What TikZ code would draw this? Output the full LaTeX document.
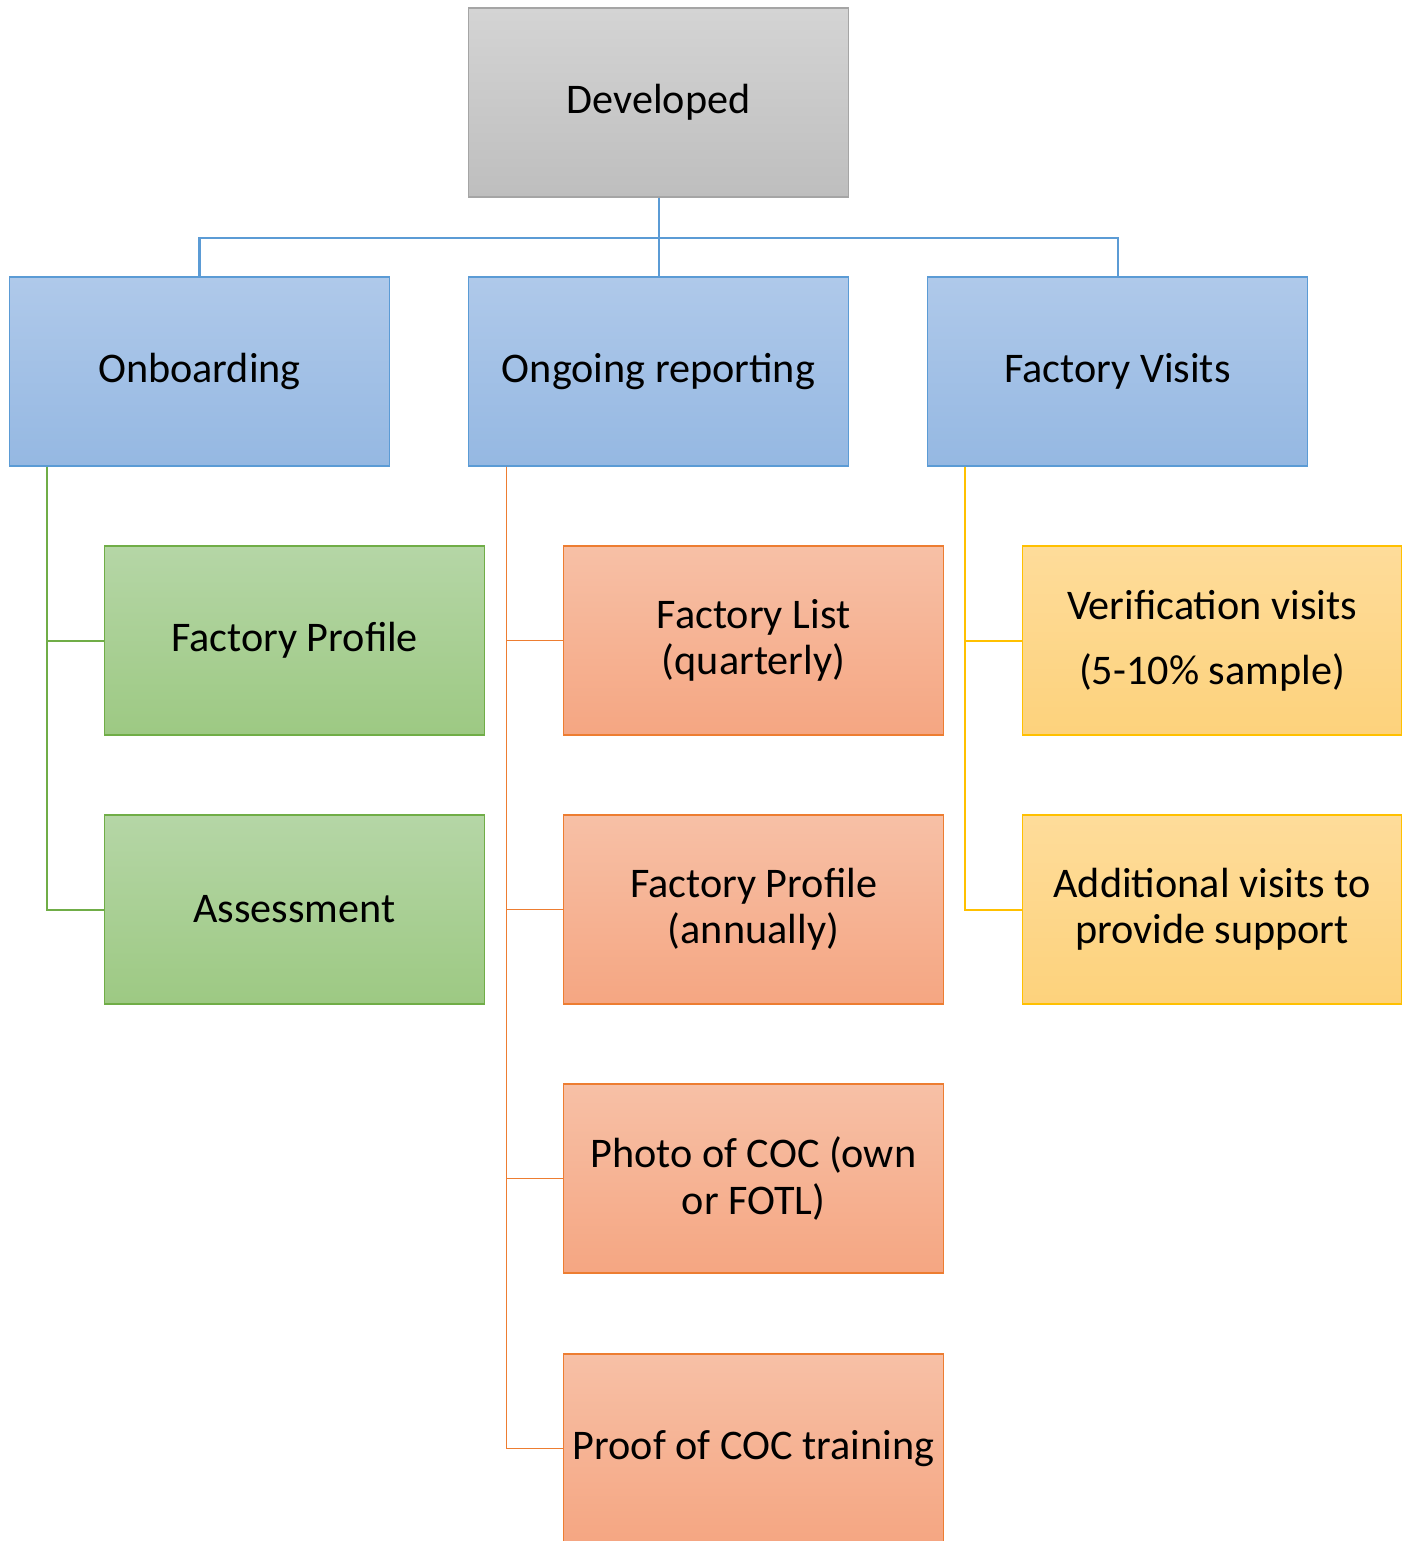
\documentclass[tikz,border=0pt]{standalone}
\usepackage{fontspec}
\setmainfont{Carlito}
\definecolor{grayline}{RGB}{165,165,165}
\definecolor{graytop}{RGB}{212,212,212}
\definecolor{graybot}{RGB}{190,190,190}
\definecolor{blueline}{RGB}{91,155,213}
\definecolor{bluetop}{RGB}{175,201,234}
\definecolor{bluebot}{RGB}{149,184,226}
\definecolor{greenline}{RGB}{112,173,71}
\definecolor{greentop}{RGB}{181,214,166}
\definecolor{greenbot}{RGB}{157,201,131}
\definecolor{orangeline}{RGB}{237,125,49}
\definecolor{orangetop}{RGB}{247,192,166}
\definecolor{orangebot}{RGB}{245,166,130}
\definecolor{yellowline}{RGB}{255,192,0}
\definecolor{yellowtop}{RGB}{254,220,154}
\definecolor{yellowbot}{RGB}{253,210,124}
\usetikzlibrary{positioning,calc}

\begin{document}
\begin{tikzpicture}[x=0.01cm, y=-0.01cm,
    box/.style={rectangle, minimum width=3.79cm, minimum height=1.89cm,
                inner sep=0pt, align=center, line width=0.012cm,
                font=\fontsize{12}{13.1}\selectfont},
    graybox/.style={box, draw=grayline, top color=graytop, bottom color=graybot},
    bluebox/.style={box, draw=blueline, top color=bluetop, bottom color=bluebot},
    greenbox/.style={box, draw=greenline, top color=greentop, bottom color=greenbot},
    orangebox/.style={box, draw=orangeline, top color=orangetop, bottom color=orangebot},
    yellowbox/.style={box, draw=yellowline, top color=yellowtop, bottom color=yellowbot},
    bluelink/.style={draw=blueline, line width=0.02cm},
    greenlink/.style={draw=greenline, line width=0.02cm},
    orangelink/.style={draw=orangeline, line width=0.012cm},
    yellowlink/.style={draw=yellowline, line width=0.02cm}]

\useasboundingbox (0,0) rectangle (1408,1541);

% Top
\node[graybox] (dev) at (658.5,102.5) {Developed};

% Branches
\node[bluebox] (onb) at (199.5,371.5) {Onboarding};
\node[bluebox] (rep) at (658.5,371.5) {Ongoing reporting};
\node[bluebox] (vis) at (1117.5,371.5) {Factory Visits};

% Onboarding
\node[greenbox] (gprof) at (294.5,640.5) {Factory Profile};
\node[greenbox] (assess) at (294.5,909.5) {Assessment};

% Ongoing reporting
\node[orangebox] (list) at (753.5,640.5) {Factory List\\(quarterly)};
\node[orangebox] (oprof) at (753.5,909.5) {Factory Profile\\(annually)};
\node[orangebox] (photo) at (753.5,1178.5) {Photo of COC (own\\or FOTL)};
\node[orangebox] (train) at (753.5,1448.5) {Proof of COC training};

% Factory visits
\node[yellowbox, font=\fontsize{12}{18.5}\selectfont] (verif) at (1212,640.5) {Verification visits\\(5-10\% sample)};
\node[yellowbox] (extra) at (1212,909.5) {Additional visits to\\provide support};

% Links
\draw[bluelink] (dev.south) -- ++(0,40) -| (onb.north);
\draw[bluelink] (dev.south) -- (rep.north);
\draw[bluelink] (dev.south) -- ++(0,40) -| (vis.north);
\draw[greenlink] ([xshift=0.38cm]onb.south west) |- (gprof.west);
\draw[greenlink] ([xshift=0.38cm]onb.south west) |- (assess.west);
\draw[orangelink] ([xshift=0.38cm]rep.south west) |- (list.west);
\draw[orangelink] ([xshift=0.38cm]rep.south west) |- (oprof.west);
\draw[orangelink] ([xshift=0.38cm]rep.south west) |- (photo.west);
\draw[orangelink] ([xshift=0.38cm]rep.south west) |- (train.west);
\draw[yellowlink] ([xshift=0.38cm]vis.south west) |- (verif.west);
\draw[yellowlink] ([xshift=0.38cm]vis.south west) |- (extra.west);
\end{tikzpicture}
\end{document}
